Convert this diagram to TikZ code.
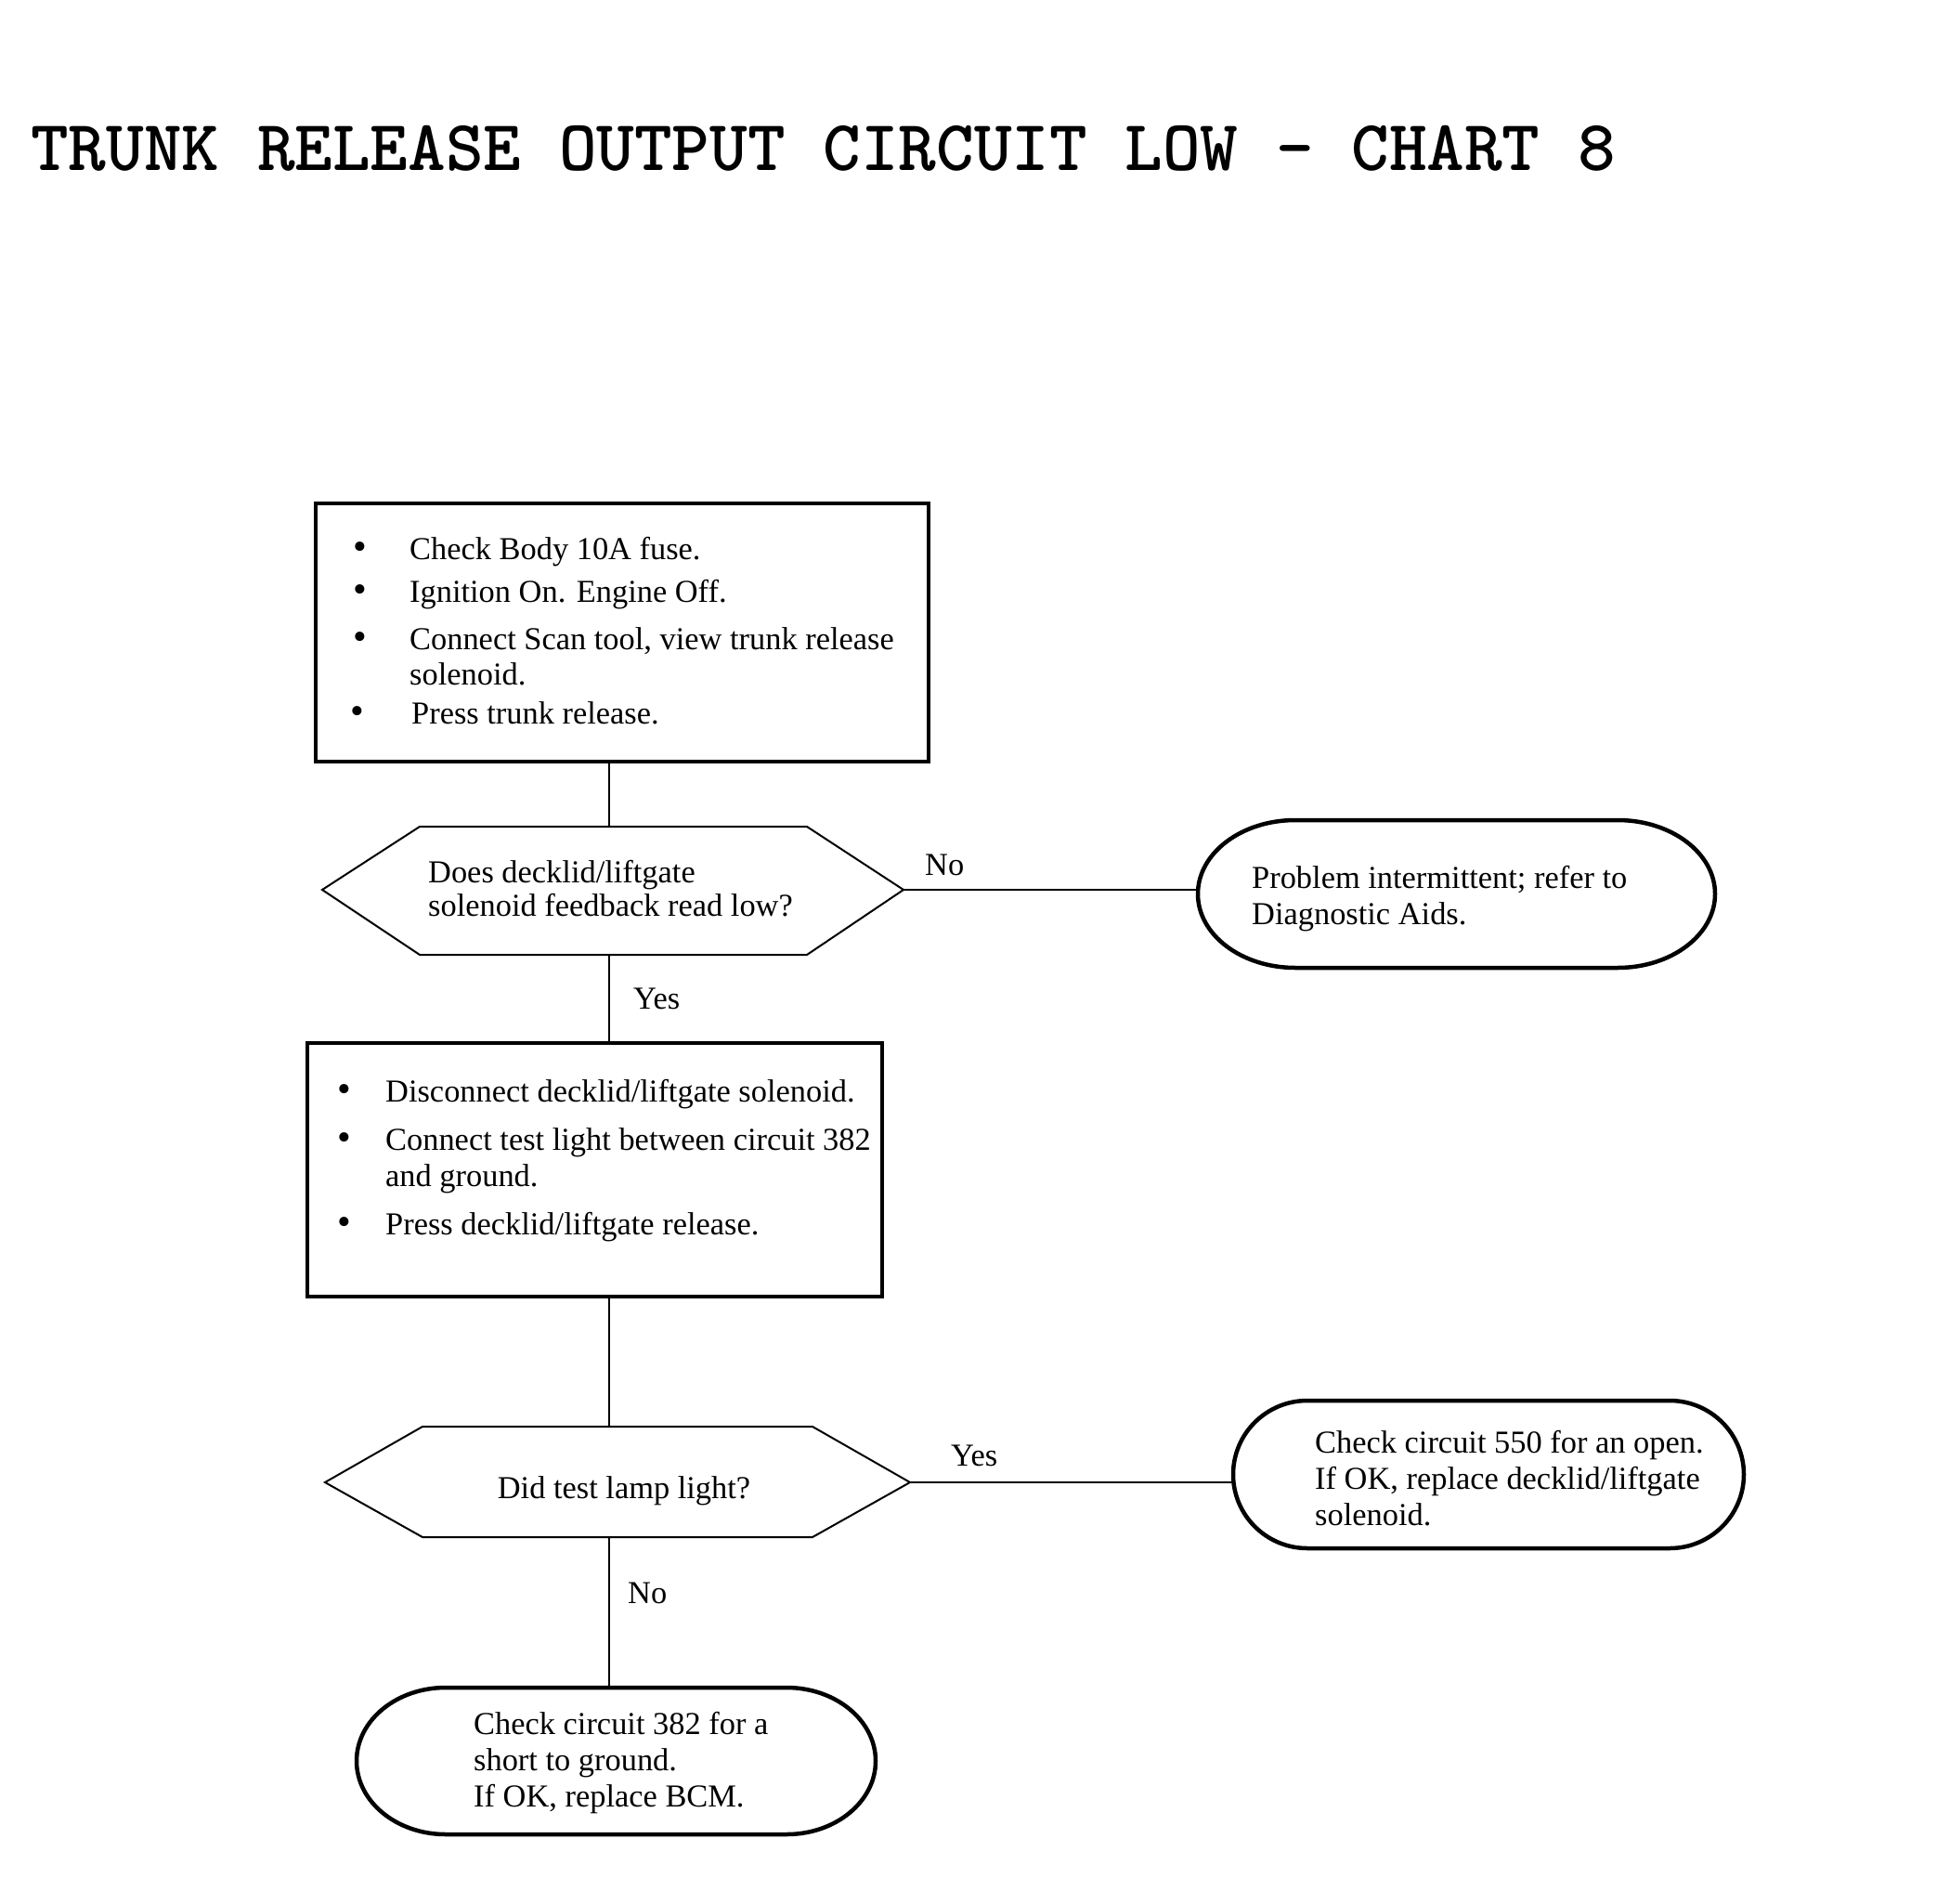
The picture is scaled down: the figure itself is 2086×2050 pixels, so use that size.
\documentclass[tikz,border=0pt]{standalone}
\usepackage{fontspec}
\setmainfont{Liberation Serif}
\newfontfamily\titlefont{lmmonolt10-bold.otf}
\newcommand\bodyfont{\fontsize{34.4}{38}\selectfont}
\newcommand\pillshape[5]{%
  \draw[pillline] ({#1+#5},#2) -- ({#3-#5},#2)
    arc[start angle=-90,end angle=90,x radius=#5,y radius={(#4-#2)/2}]
    -- ({#1+#5},#4)
    arc[start angle=90,end angle=270,x radius=#5,y radius={(#4-#2)/2}] -- cycle;}
\tikzset{
  stepbox/.style={draw, line width=4pt, inner sep=0pt},
  hexline/.style={draw, line width=2pt, line join=miter},
  pillline/.style={draw, line width=4.5pt},
  conn/.style={draw, line width=1.4pt},
  txt/.style={anchor=base west, inner sep=0pt, font=\bodyfont},
  bul/.style={anchor=base, inner sep=0pt, font=\fontsize{42}{42}\selectfont},
}
\begin{document}
\begin{tikzpicture}[x=1pt,y=-1pt]
\path[use as bounding box, fill=white] (0,0) rectangle (2086,2050);

% title
\node[anchor=base west, inner sep=0pt, font=\titlefont\fontsize{77.4}{78}\selectfont] (title) at (33,183) {TRUNK RELEASE OUTPUT CIRCUIT LOW – CHART 8};

% box 1
\node[stepbox, minimum width=660pt, minimum height=278pt] (b1) at (670,681) {};
\node[bul] (b1u1) at (388,602) {•};
\node[txt] (b1t1) at (441,602) {Check Body 10A fuse.};
\node[bul] (b1u2) at (388,648) {•};
\node[txt] (b1t2) at (441,648) {Ignition On. Engine Off.};
\node[bul] (b1u3) at (388,699) {•};
\node[txt] (b1t3) at (441,699) {Connect Scan tool, view trunk release};
\node[txt] (b1t4) at (441,737) {solenoid.};
\node[bul] (b1u4) at (385,779) {•};
\node[txt] (b1t5) at (443,779) {Press trunk release.};

% hexagon 1
\draw[hexline] (347,958) -- (452,890) -- (869,890) -- (973,958) -- (869,1028) -- (452,1028) -- cycle;
\coordinate (h1n) at (656,890);
\coordinate (h1e) at (973,958);
\coordinate (h1s) at (656,1028);
\node[txt] (h1t1) at (461,950) {Does decklid/liftgate};
\node[txt] (h1t2) at (461,986) {solenoid feedback read low?};

% pill 1
\pillshape{1290}{883}{1847}{1042}{105}
\coordinate (e1w) at (1290,958);
\node[txt] (e1t1) at (1348,956) {Problem intermittent; refer to};
\node[txt] (e1t2) at (1348,995) {Diagnostic Aids.};

% box 2
\node[stepbox, minimum width=619pt, minimum height=273pt] (b2) at (640.5,1259.5) {};
\node[bul] (b2u1) at (371,1186) {•};
\node[txt] (b2t1) at (415,1186) {Disconnect decklid/liftgate solenoid.};
\node[bul] (b2u2) at (371,1238) {•};
\node[txt] (b2t2) at (415,1238) {Connect test light between circuit 382};
\node[txt] (b2t3) at (415,1277) {and ground.};
\node[bul] (b2u3) at (371,1329) {•};
\node[txt] (b2t4) at (415,1329) {Press decklid/liftgate release.};

% hexagon 2
\draw[hexline] (350,1596) -- (455,1536) -- (875,1536) -- (980,1596) -- (875,1655) -- (455,1655) -- cycle;
\coordinate (h2n) at (656,1536);
\coordinate (h2e) at (980,1596);
\coordinate (h2s) at (656,1655);
\node[anchor=base, inner sep=0pt, font=\bodyfont] (h2t) at (672,1613) {Did test lamp light?};

% pill 2
\pillshape{1328}{1508}{1878}{1667}{80}
\coordinate (e2w) at (1328,1596);
\node[txt] (e2t1) at (1416,1564) {Check circuit 550 for an open.};
\node[txt] (e2t2) at (1416,1603) {If OK, replace decklid/liftgate};
\node[txt] (e2t3) at (1416,1642) {solenoid.};

% pill 3
\pillshape{384}{1817}{943}{1975}{96}
\coordinate (e3n) at (656,1817);
\node[txt] (e3t1) at (510,1867) {Check circuit 382 for a};
\node[txt] (e3t2) at (510,1906) {short to ground.};
\node[txt] (e3t3) at (510,1945) {If OK, replace BCM.};

% connectors
\draw[conn] (b1.south -| h1n) -- (h1n);
\draw[conn, line width=2.4pt] (h1e) -- (e1w);
\draw[conn] (h1s) -- (b2.north -| h1s);
\draw[conn] (b2.south -| h2n) -- (h2n);
\draw[conn, line width=1.6pt] (h2e) -- (e2w);
\draw[conn] (h2s) -- (e3n);

% labels
\node[txt] (l1) at (996,942) {No};
\node[txt] (l2) at (682,1086) {Yes};
\node[txt] (l3) at (1024,1578) {Yes};
\node[txt] (l4) at (676,1726) {No};
\end{tikzpicture}
\end{document}
